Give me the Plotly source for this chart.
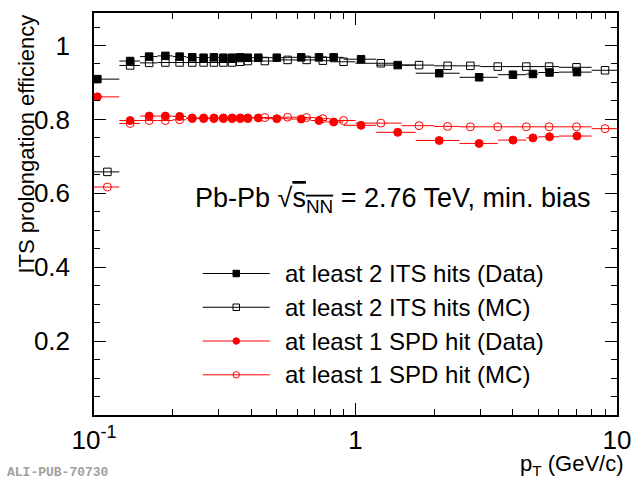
import plotly.graph_objects as go

# ---------------- data ----------------
# Data: at least 2 ITS hits / at least 1 SPD hit
data_pt = [0.103, 0.1375, 0.1625, 0.1875, 0.2125, 0.2375, 0.2625, 0.2875, 0.3125, 0.3375,
           0.3625, 0.3875, 0.425, 0.50, 0.62, 0.725, 0.825, 1.05, 1.45, 2.09, 2.97, 4.0,
           4.77, 5.52, 7.03]
data_lo = [0.1, 0.125, 0.15, 0.175, 0.2, 0.225, 0.25, 0.275, 0.3, 0.325,
           0.35, 0.375, 0.4, 0.45, 0.55, 0.675, 0.775, 0.9, 1.2, 1.7, 2.5, 3.5,
           4.5, 5.0, 6.0]
data_hi = [0.125, 0.15, 0.175, 0.2, 0.225, 0.25, 0.275, 0.3, 0.325, 0.35,
           0.375, 0.4, 0.45, 0.55, 0.675, 0.775, 0.9, 1.2, 1.7, 2.5, 3.5, 4.5,
           5.0, 6.0, 8.0]
its_data = [0.909, 0.958, 0.970, 0.972, 0.970, 0.968, 0.967, 0.968, 0.967, 0.967,
            0.968, 0.967, 0.967, 0.967, 0.968, 0.968, 0.968, 0.963, 0.947, 0.925,
            0.914, 0.921, 0.923, 0.927, 0.928]
spd_data = [0.861, 0.797, 0.809, 0.809, 0.808, 0.804, 0.804, 0.804, 0.804, 0.804,
            0.804, 0.804, 0.804, 0.802, 0.801, 0.797, 0.793, 0.784, 0.765, 0.743,
            0.735, 0.744, 0.750, 0.753, 0.755]

# MC
mc_pt = [0.1125, 0.1375, 0.1625, 0.1875, 0.2125, 0.2375, 0.2625, 0.2875, 0.3125, 0.3375,
         0.3625, 0.3875, 0.45, 0.55, 0.65, 0.75, 0.9, 1.25, 1.75, 2.25, 2.75, 3.5,
         4.5, 5.5, 7.0, 9.0]
mc_lo = [0.1, 0.125, 0.15, 0.175, 0.2, 0.225, 0.25, 0.275, 0.3, 0.325,
         0.35, 0.375, 0.4, 0.5, 0.6, 0.7, 0.8, 1.0, 1.5, 2.0, 2.5, 3.0,
         4.0, 5.0, 6.0, 8.0]
mc_hi = [0.125, 0.15, 0.175, 0.2, 0.225, 0.25, 0.275, 0.3, 0.325, 0.35,
         0.375, 0.4, 0.5, 0.6, 0.7, 0.8, 1.0, 1.5, 2.0, 2.5, 3.0, 4.0,
         5.0, 6.0, 8.0, 10.0]
its_mc = [0.658, 0.946, 0.953, 0.954, 0.954, 0.954, 0.954, 0.954, 0.954, 0.954,
          0.956, 0.958, 0.958, 0.961, 0.961, 0.959, 0.956, 0.952, 0.947, 0.945,
          0.945, 0.943, 0.943, 0.943, 0.941, 0.933]
spd_mc = [0.617, 0.789, 0.797, 0.797, 0.799, 0.802, 0.802, 0.802, 0.802, 0.802,
          0.802, 0.802, 0.805, 0.806, 0.805, 0.802, 0.797, 0.790, 0.783, 0.781,
          0.780, 0.780, 0.780, 0.780, 0.780, 0.775]

legend_labels = ["at least 2 ITS hits (Data)", "at least 2 ITS hits (MC)",
                 "at least 1 SPD hit (Data)", "at least 1 SPD hit (MC)"]
y_tickvals = [0.2, 0.4, 0.6, 0.8, 1.0]
y_ticktext = ["0.2", "0.4", "0.6", "0.8", "1"]
x_tickvals = [0.1, 1, 10]
x_ticktext = ["10<sup>-1</sup>", "1", "10"]

# ---------------- figure ----------------
FONT = "Liberation Sans, Arial, Helvetica, sans-serif"
RED = "#ff0000"

series = [
    (data_pt, data_lo, data_hi, its_data, "black", "square"),
    (mc_pt, mc_lo, mc_hi, its_mc, "black", "square-open"),
    (data_pt, data_lo, data_hi, spd_data, RED, "circle"),
    (mc_pt, mc_lo, mc_hi, spd_mc, RED, "circle-open"),
]

fig = go.Figure()
for (pt, lo, hi, eff, col, sym), name in zip(series, legend_labels):
    fig.add_trace(go.Scatter(
        x=pt, y=eff, mode="markers", name=name, showlegend=False,
        marker=dict(symbol=sym, size=7.5 if "square" in sym else 8, color=col,
                    line=dict(color=col, width=1)),
        error_x=dict(type="data", symmetric=False,
                     array=[h - p for h, p in zip(hi, pt)],
                     arrayminus=[p - l for p, l in zip(pt, lo)],
                     color=col, thickness=1, width=0),
        cliponaxis=True,
    ))

# manual legend (drawn on an overlay axis in plot fractions)
leg_rows = [0.352, 0.268, 0.184, 0.100]
for (pt, lo, hi, eff, col, sym), name, yr in zip(series, legend_labels, leg_rows):
    fig.add_trace(go.Scatter(x=[0.208, 0.336], y=[yr, yr], mode="lines",
                             line=dict(color=col, width=1), xaxis="x2", yaxis="y2",
                             showlegend=False, hoverinfo="skip"))
    fig.add_trace(go.Scatter(x=[0.272], y=[yr], mode="markers",
                             marker=dict(symbol=sym, size=6.5, color=col,
                                         line=dict(color=col, width=1)),
                             xaxis="x2", yaxis="y2", showlegend=False, hoverinfo="skip"))
    fig.add_annotation(x=0.362, y=yr, xref="x2", yref="y2", text=name, showarrow=False,
                       xanchor="left", yanchor="middle",
                       font=dict(family=FONT, size=24, color="black"))

fig.add_annotation(
    x=0.19, y=0.534, xref="paper", yref="paper", xanchor="left", yanchor="middle",
    text="Pb-Pb √<span style='text-decoration:overline'>s<sub>NN</sub></span> = 2.76 TeV, min. bias",
    showarrow=False, font=dict(family=FONT, size=27, color="black"))

# axis titles
fig.add_annotation(x=-0.13, y=1.0, xref="paper", yref="paper", textangle=-90,
                   xanchor="center", yanchor="top", showarrow=False,
                   text="ITS prolongation efficiency",
                   font=dict(family=FONT, size=22, color="black"))
fig.add_annotation(x=1.018, y=-0.1634, xref="paper", yref="paper",
                   xanchor="right", yanchor="bottom", showarrow=False,
                   text="p<sub>T</sub> (GeV/c)",
                   font=dict(family=FONT, size=22, color="black"))
fig.add_annotation(x=-0.17, y=-0.143, xref="paper", yref="paper",
                   xanchor="left", yanchor="middle", showarrow=False,
                   text="<b>ALI-PUB-70730</b>",
                   font=dict(family="Liberation Mono, Courier New, monospace", size=13,
                             color="#a0a0a0"))

minor_x = [0.2, 0.3, 0.4, 0.5, 0.6, 0.7, 0.8, 0.9, 2, 3, 4, 5, 6, 7, 8, 9]

fig.update_layout(
    width=642, height=482,
    margin=dict(l=94, r=15, t=11, b=67),
    paper_bgcolor="white", plot_bgcolor="white",
    font=dict(family=FONT, color="black"),
    xaxis=dict(type="log", range=[-1, 1], tickmode="array", tickvals=x_tickvals,
               ticktext=x_ticktext, ticks="inside", ticklen=12, tickwidth=1,
               tickcolor="black", showline=True, linecolor="black", linewidth=1.5,
               mirror="ticks", showgrid=False, zeroline=False,
               tickfont=dict(family=FONT, size=26), ticklabelstandoff=1,
               minor=dict(tickmode="array", tickvals=minor_x, ticks="inside",
                          ticklen=6, tickcolor="black", showgrid=False)),
    yaxis=dict(range=[0, 1.088], tickmode="array", tickvals=y_tickvals,
               ticktext=y_ticktext, ticks="inside", ticklen=12, tickwidth=1,
               tickcolor="black", showline=True, linecolor="black", linewidth=1.5,
               mirror="ticks", showgrid=False, zeroline=False,
               tickfont=dict(family=FONT, size=26), ticklabelstandoff=17,
               minor=dict(dtick=0.05, tick0=0, ticks="inside", ticklen=6,
                          tickcolor="black", showgrid=False)),
    xaxis2=dict(overlaying="x", range=[0, 1], visible=False, fixedrange=True),
    yaxis2=dict(overlaying="y", range=[0, 1], visible=False, fixedrange=True),
    showlegend=False,
)

fig.write_html("out.html", config={"displayModeBar": False},
               post_script="document.body.style.margin='0';document.body.style.padding='0';")
